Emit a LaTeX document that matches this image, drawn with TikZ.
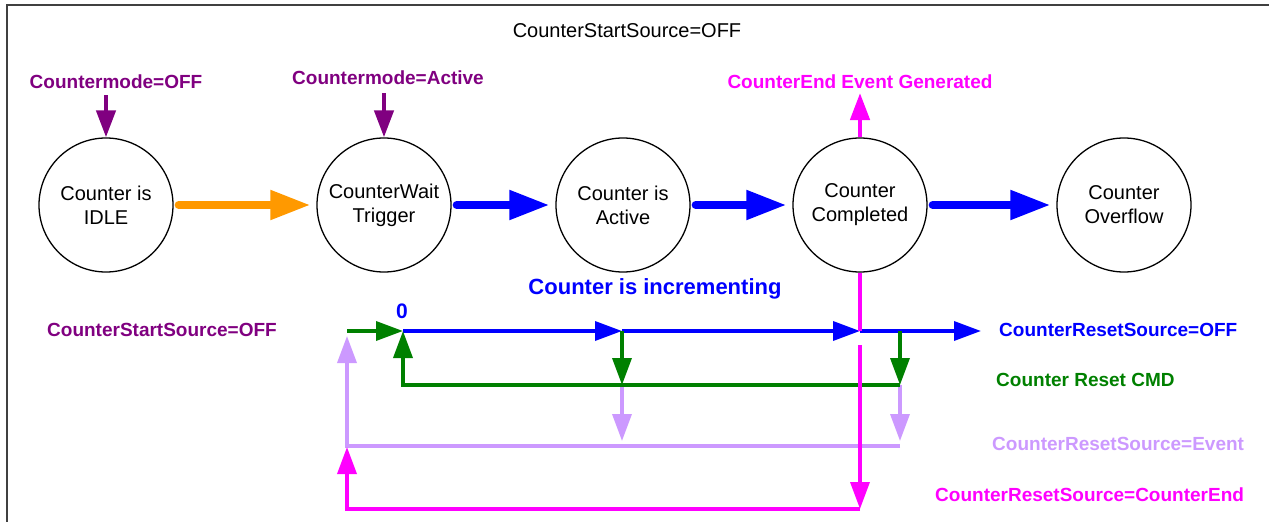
\documentclass[tikz,border=0pt]{standalone}
\usepackage{fontspec}
\setmainfont{Liberation Sans}
\usetikzlibrary{arrows.meta}
\definecolor{cpurple}{HTML}{800080}
\definecolor{corange}{HTML}{FF9900}
\definecolor{cblue}{HTML}{0000FF}
\definecolor{cgreen}{HTML}{008000}
\definecolor{clavender}{HTML}{CC99FF}
\definecolor{cmagenta}{HTML}{FF00FF}

\begin{document}
\begin{tikzpicture}[x=1pt, y=-1pt,
    state/.style={circle,draw,line width=1.3pt,minimum size=134pt,inner sep=0pt,
      align=center,font=\fontsize{20}{24}\selectfont},
    lbl/.style={font=\bfseries\fontsize{19}{22}\selectfont,inner sep=0pt},
    bigarrow/.style={line width=8pt,line cap=round,
      -{Triangle[length=40pt,width=28pt]},shorten <=5pt,shorten >=6pt},
    smallarrow/.style={line width=3.5pt,-{Triangle[length=27pt,width=19pt]}},
    wire/.style={line width=3.5pt} ]
    \useasboundingbox (0,0) rectangle (1269,522);
    \draw [line width=2pt,black!75] (1269,5) -- (7,5) -- (7,522);
    % states
    \node [state] (idle) at (106,205) {Counter is\\IDLE};
    \node [state] (wait) at (384,205) {CounterWait\\Trigger};
    \node [state] (active) at (623,205) {Counter is\\Active};
    \node [state] (done) at (860,205) {Counter\\Completed};
    \node [state] (overflow) at (1124,205) {Counter\\Overflow};
    \draw [bigarrow,corange] (idle) -- (wait);
    \draw [bigarrow,cblue] (wait) -- (active);
    \draw [bigarrow,cblue] (active) -- (done);
    \draw [bigarrow,cblue] (done) -- (overflow);
    % top labels
    \node [font=\fontsize{20}{24}\selectfont] (startsrc) at (627,31) {CounterStartSource=OFF};
    \node [lbl,cpurple] (modeoff) at (116,82) {Countermode=OFF};
    \node [lbl,cpurple] (modeact) at (388,78) {Countermode=Active};
    \node [lbl,cmagenta] (endevent) at (860,82) {CounterEnd Event Generated};
    \coordinate (p1) at (106,95);
    \coordinate (p2) at (384,93);
    \coordinate (e1) at (860,93);
    \draw [smallarrow,cpurple,line width=4.5pt] (p1) -- (idle);
    \draw [smallarrow,cpurple,line width=4.5pt] (p2) -- (wait);
    \draw [smallarrow,cmagenta,line width=4.5pt] (done) -- (e1);
    % counter lines
    \node [lbl,font=\bfseries\fontsize{22}{26}\selectfont,cblue] (incr) at (655,289) {Counter is incrementing};
    \node [lbl,font=\bfseries\fontsize{21}{25}\selectfont,cblue] (zero) at (402,311) {0};
    \node [lbl,cpurple,anchor=west] (startoff) at (47,330) {CounterStartSource=OFF};
    \node [lbl,cblue,anchor=west] (rsoff) at (999,330) {CounterResetSource=OFF};
    \node [lbl,cgreen,anchor=west] (rcmd) at (996,380) {Counter Reset CMD};
    \node [lbl,clavender,anchor=west] (rsevent) at (992,444) {CounterResetSource=Event};
    \node [lbl,cmagenta,anchor=west] (rsend) at (935,495) {CounterResetSource=CounterEnd};
    \coordinate (s0) at (347,331);
    \coordinate (z) at (403,331);
    \coordinate (b1) at (622,331);
    \coordinate (b2) at (860,331);
    \coordinate (b3) at (900,331);
    \coordinate (b4) at (981,331);
    \coordinate (g1) at (622,385);
    \coordinate (g2) at (900,385);
    \coordinate (l1) at (622,441);
    \coordinate (l2) at (900,441);
    \coordinate (l3) at (900,446);
    \coordinate (s1) at (347,336);
    \coordinate (m1) at (860,345);
    \coordinate (m2) at (860,509);
    \coordinate (s2) at (347,447);
    \draw [smallarrow,cblue] (z) -- (b1);
    \draw [smallarrow,cblue] (b1) -- (b2);
    \draw [smallarrow,cblue] (b2) -- (b4);
    \draw [smallarrow,clavender] (g1) -- (l1);
    \draw [smallarrow,clavender] (g2) -- (l2);
    \draw [smallarrow,clavender] (l3) -| (s1);
    \draw [smallarrow,cgreen] (s0) -- (z);
    \draw [smallarrow,cgreen] (b1) -- (g1);
    \draw [smallarrow,cgreen] (b3) -- (g2);
    \draw [smallarrow,cgreen] (g2) -| (z);
    \draw [wire,cmagenta] (done) -- (b2);
    \draw [smallarrow,cmagenta] (m1) -- (m2);
    \draw [smallarrow,cmagenta] (m2) -| (s2);
\end{tikzpicture}
\end{document}
